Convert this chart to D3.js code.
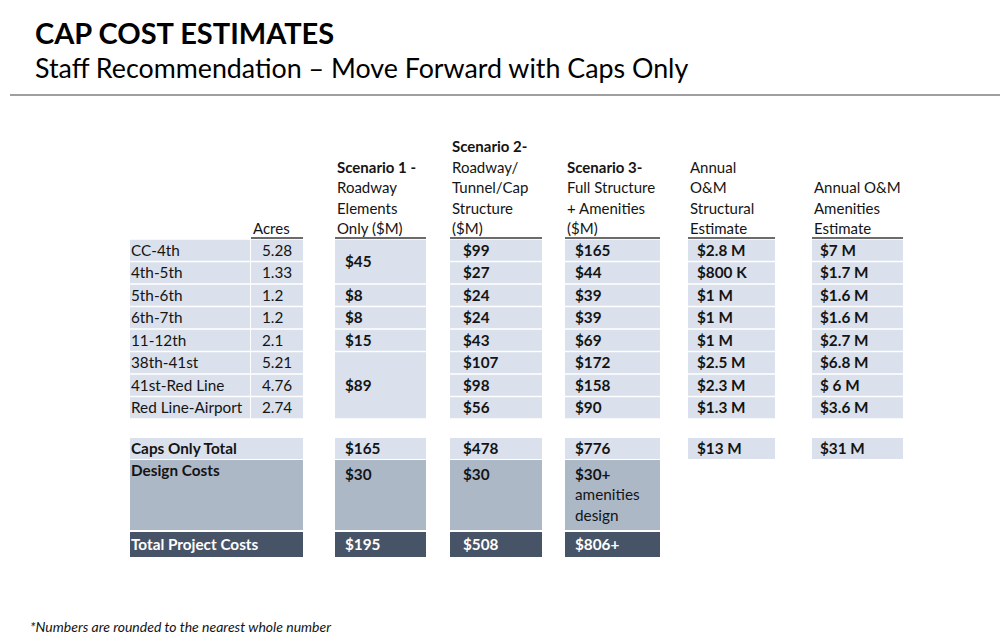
<!DOCTYPE html>
<html>
<head>
<meta charset="utf-8">
<script src="https://cdn.jsdelivr.net/npm/d3@7"></script>
<style>
  html, body { margin: 0; padding: 0; background: #fff; }
  svg { display: block; font-family: Lato, "Open Sans", sans-serif; }
</style>
</head>
<body>
<div id="chart"></div>
<script>
// Table data
var segments = ["CC-4th", "4th-5th", "5th-6th", "6th-7th", "11-12th", "38th-41st", "41st-Red Line", "Red Line-Airport"];
var acres = ["5.28", "1.33", "1.2", "1.2", "2.1", "5.21", "4.76", "2.74"];
var scenario1 = ["$45", "$8", "$8", "$15", "$89"];
var scenario1Spans = [2, 1, 1, 1, 3];
var scenario2 = ["$99", "$27", "$24", "$24", "$43", "$107", "$98", "$56"];
var scenario3 = ["$165", "$44", "$39", "$39", "$69", "$172", "$158", "$90"];
var omStructural = ["$2.8 M", "$800 K", "$1 M", "$1 M", "$1 M", "$2.5 M", "$2.3 M", "$1.3 M"];
var omAmenities = ["$7 M", "$1.7 M", "$1.6 M", "$1.6 M", "$2.7 M", "$6.8 M", "$ 6 M", "$3.6 M"];

var capsTotal = ["$165", "$478", "$776", "$13 M", "$31 M"];
var designCosts = ["$30", "$30", "$30+"];
var designNote = ["amenities", "design"];
var totalCosts = ["$195", "$508", "$806+"];

var columns = ["label", "acres", "s1", "s2", "s3", "om", "amen"];
var headers = {
  acres: [["Acres", false]],
  s1: [["Scenario 1 -", true], ["Roadway", false], ["Elements", false], ["Only ($M)", false]],
  s2: [["Scenario 2-", true], ["Roadway/", false], ["Tunnel/Cap", false], ["Structure", false], ["($M)", false]],
  s3: [["Scenario 3-", true], ["Full Structure", false], ["+ Amenities", false], ["($M)", false]],
  om: [["Annual", false], ["O&M", false], ["Structural", false], ["Estimate", false]],
  amen: [["Annual O&M", false], ["Amenities", false], ["Estimate", false]]
};

var W = 1000, H = 642;
var light = "#dae1ec", mid = "#adb8c7", dark = "#475467", ink = "#141414";

var svg = d3.select("#chart").append("svg").attr("width", W).attr("height", H);

// Title block
svg.append("text").attr("x", 35).attr("y", 44)
  .attr("font-size", 29).attr("font-weight", 700).attr("fill", "#000")
  .text("CAP COST ESTIMATES");
svg.append("text").attr("x", 35).attr("y", 78)
  .attr("font-size", 26.8).attr("fill", "#000")
  .text("Staff Recommendation \u2013 Move Forward with Caps Only");
svg.append("line").attr("x1", 10).attr("x2", 1000).attr("y1", 95).attr("y2", 95)
  .attr("stroke", "#7f7f7f").attr("stroke-width", 1.5);

// Column geometry
var colX = d3.scaleOrdinal().domain(columns).range([130, 251, 335, 450, 565, 688, 812]);
var colW = d3.scaleOrdinal().domain(columns).range([120, 52, 91, 92, 95, 87, 91]);
var textPad = d3.scaleOrdinal().domain(columns).range([1, 11, 10, 13, 10, 9, 8]);

var y = d3.scaleBand().domain(segments).range([239, 419]).paddingInner(0);
var bh = y.bandwidth();

// Headers
var lineH = 20.5;
Object.keys(headers).forEach(function (k) {
  var lines = headers[k];
  var g = svg.append("g");
  g.selectAll("text").data(lines).join("text")
    .attr("x", colX(k) + 2)
    .attr("y", function (d, i) { return 234 - (lines.length - 1 - i) * lineH; })
    .attr("font-size", 15)
    .attr("font-weight", function (d) { return d[1] ? 700 : 400; })
    .attr("fill", ink)
    .text(function (d) { return d[0]; });
  svg.append("line")
    .attr("x1", colX(k)).attr("x2", colX(k) + colW(k))
    .attr("y1", 238).attr("y2", 238)
    .attr("stroke", "#3a3a3a").attr("stroke-width", 1.5);
});

// Body cells
function cellRects(key, values, spans, bold) {
  var start = 0;
  var cells = values.map(function (v, i) {
    var s = spans ? spans[i] : 1;
    var c = { v: v, top: y(segments[start]), h: s * bh };
    start += s;
    return c;
  });
  var g = svg.append("g");
  g.selectAll("rect").data(cells).join("rect")
    .attr("x", colX(key)).attr("width", colW(key))
    .attr("y", function (d) { return d.top + 0.75; })
    .attr("height", function (d) { return d.h - 1.5; })
    .attr("fill", light);
  g.selectAll("text").data(cells).join("text")
    .attr("x", colX(key) + textPad(key))
    .attr("y", function (d) { return d.top + d.h / 2; })
    .attr("dy", "0.36em")
    .attr("font-size", 15.3)
    .attr("font-weight", bold ? 700 : 400)
    .attr("fill", ink)
    .text(function (d) { return d.v; });
}

cellRects("label", segments, null, false);
cellRects("acres", acres, null, false);
cellRects("s1", scenario1, scenario1Spans, true);
cellRects("s2", scenario2, null, true);
cellRects("s3", scenario3, null, true);
cellRects("om", omStructural, null, true);
cellRects("amen", omAmenities, null, true);

// Totals block
var capsY = 438, capsH = 21, designY = 460, designH = 70, totalY = 532, totalH = 25;
var totCols = ["s1", "s2", "s3", "om", "amen"];
var labelSpanW = colX("acres") + colW("acres") - colX("label");

function block(yTop, h, fill) {
  svg.append("rect").attr("x", colX("label")).attr("width", labelSpanW)
    .attr("y", yTop).attr("height", h).attr("fill", fill);
}
block(capsY, capsH, light);
block(designY, designH, mid);
block(totalY, totalH, dark);

svg.append("text").attr("x", 131).attr("y", capsY + capsH / 2).attr("dy", "0.36em")
  .attr("font-size", 15.3).attr("font-weight", 700).attr("fill", ink).text("Caps Only Total");
svg.append("text").attr("x", 131).attr("y", designY + 10).attr("dy", "0.36em")
  .attr("font-size", 15.3).attr("font-weight", 700).attr("fill", ink).text("Design Costs");
svg.append("text").attr("x", 131).attr("y", totalY + totalH / 2).attr("dy", "0.36em")
  .attr("font-size", 15.3).attr("font-weight", 700).attr("fill", "#fff").text("Total Project Costs");

var capsG = svg.append("g");
capsG.selectAll("rect").data(capsTotal).join("rect")
  .attr("x", function (d, i) { return colX(totCols[i]); })
  .attr("width", function (d, i) { return colW(totCols[i]); })
  .attr("y", capsY).attr("height", capsH).attr("fill", light);
capsG.selectAll("text").data(capsTotal).join("text")
  .attr("x", function (d, i) { return colX(totCols[i]) + textPad(totCols[i]); })
  .attr("y", capsY + capsH / 2).attr("dy", "0.36em")
  .attr("font-size", 15.3).attr("font-weight", 700).attr("fill", ink)
  .text(function (d) { return d; });

var designG = svg.append("g");
designG.selectAll("rect").data(designCosts).join("rect")
  .attr("x", function (d, i) { return colX(totCols[i]); })
  .attr("width", function (d, i) { return colW(totCols[i]); })
  .attr("y", designY).attr("height", designH).attr("fill", mid);
designG.selectAll("text").data(designCosts).join("text")
  .attr("x", function (d, i) { return colX(totCols[i]) + textPad(totCols[i]); })
  .attr("y", designY + 14).attr("dy", "0.36em")
  .attr("font-size", 15.3).attr("font-weight", 700).attr("fill", ink)
  .text(function (d) { return d; });
designG.selectAll("text.note").data(designNote).join("text")
  .attr("class", "note")
  .attr("x", colX("s3") + textPad("s3"))
  .attr("y", function (d, i) { return designY + 14 + (i + 1) * lineH; }).attr("dy", "0.36em")
  .attr("font-size", 15.3).attr("fill", ink)
  .text(function (d) { return d; });

var totalG = svg.append("g");
totalG.selectAll("rect").data(totalCosts).join("rect")
  .attr("x", function (d, i) { return colX(totCols[i]); })
  .attr("width", function (d, i) { return colW(totCols[i]); })
  .attr("y", totalY).attr("height", totalH).attr("fill", dark);
totalG.selectAll("text").data(totalCosts).join("text")
  .attr("x", function (d, i) { return colX(totCols[i]) + textPad(totCols[i]); })
  .attr("y", totalY + totalH / 2).attr("dy", "0.36em")
  .attr("font-size", 15.3).attr("font-weight", 700).attr("fill", "#fff")
  .text(function (d) { return d; });

// Footnote
svg.append("text").attr("x", 30).attr("y", 632)
  .attr("font-size", 14).attr("font-style", "italic").attr("fill", ink)
  .text("*Numbers are rounded to the nearest whole number");
</script>
</body>
</html>
